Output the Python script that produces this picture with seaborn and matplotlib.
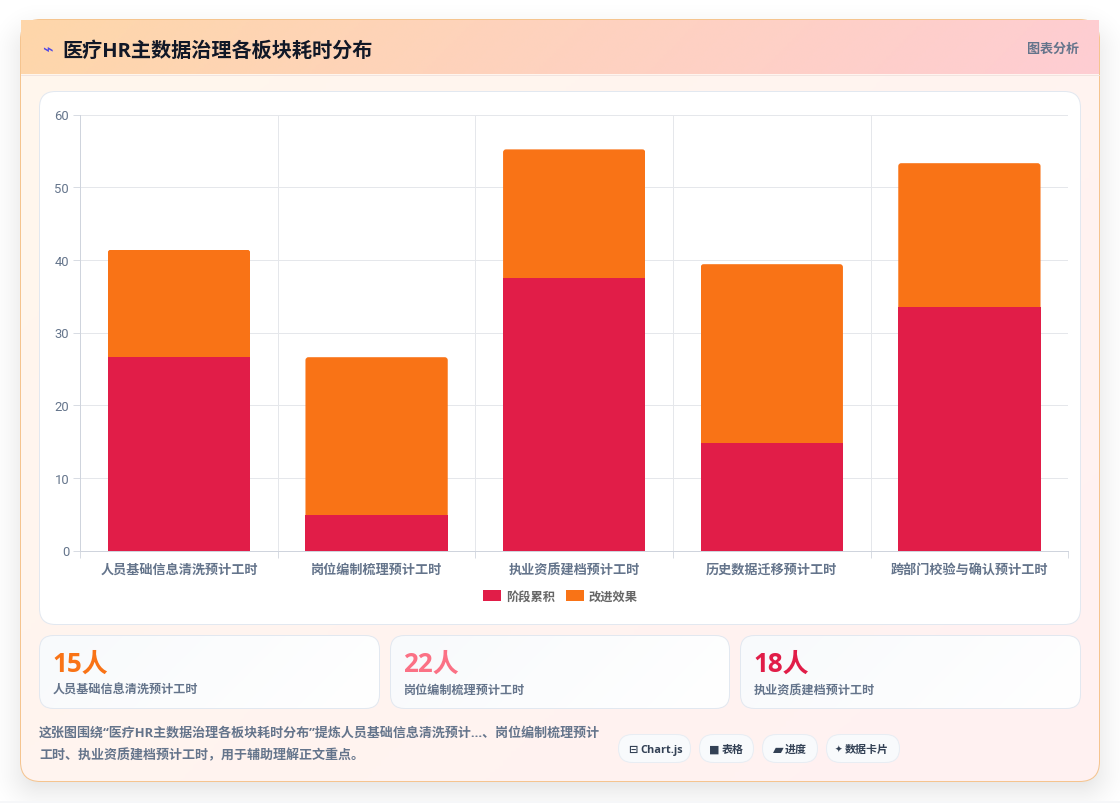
import numpy as np
import pandas as pd
import matplotlib
matplotlib.use("Agg")
import matplotlib.pyplot as plt
from matplotlib.patches import FancyBboxPatch, Rectangle
from matplotlib.transforms import IdentityTransform, ScaledTranslation
from matplotlib.colors import LinearSegmentedColormap
import seaborn as sns

# Chart data
categories = ["人员基础信息清洗预计工时", "岗位编制梳理预计工时", "执业资质建档预计工时",
              "历史数据迁移预计工时", "跨部门校验与确认预计工时"]
stage_total = [26.6, 4.9, 37.5, 14.8, 33.5]
improvement = [14.8, 21.7, 17.7, 24.6, 19.8]
series_names = ["阶段累积", "改进效果"]

kpi_values = ["15人", "22人", "18人"]
kpi_labels = ["人员基础信息清洗预计工时", "岗位编制梳理预计工时", "执业资质建档预计工时"]
kpi_colors = ["#f97316", "#fb7185", "#e11d48"]

title_text = "医疗HR主数据治理各板块耗时分布"
side_text = "图表分析"
desc_lines = ["这张图围绕“医疗HR主数据治理各板块耗时分布”提炼人员基础信息清洗预计...、岗位编制梳理预计",
              "工时、执业资质建档预计工时，用于辅助理解正文重点。"]
pill_icons = ["⊟", "■", "▰", "✦"]
pill_texts = ["Chart.js", "表格", "进度", "数据卡片"]

RED, ORANGE = "#e11d48", "#f97316"
FONTS = ["Open Sans", "Noto Sans CJK SC", "DejaVu Sans"]

sns.set_theme(style="white")
plt.rcParams["font.family"] = FONTS
plt.rcParams["axes.unicode_minus"] = False

W, H = 1120, 804
DPI = 100
fig = plt.figure(figsize=(W / DPI, H / DPI), dpi=DPI, facecolor="white")

# Page layer in pixel units, y pointing down
bg = fig.add_axes([0, 0, 1, 1], zorder=0)
bg.set_xlim(0, W)
bg.set_ylim(H, 0)
bg.axis("off")
HAIR = 0.72  # one pixel in points


def rounded(x0, y0, x1, y1, r, **kw):
    patch = FancyBboxPatch((x0 + r, y0 + r), x1 - x0 - 2 * r, y1 - y0 - 2 * r,
                           boxstyle=f"round,pad={r},rounding_size={r}", **kw)
    bg.add_patch(patch)
    return patch


def gradient(x0, y0, x1, y1, c0, c1, clip=None, zorder=1):
    cmap = LinearSegmentedColormap.from_list("g", [c0, c1])
    gx, gy = np.meshgrid(np.linspace(0, 1, 256), np.linspace(0, 1, 256))
    img = bg.imshow((gx * (x1 - x0) + gy * (y1 - y0)) / ((x1 - x0) + (y1 - y0)),
                    extent=(x0, x1, y1, y0), cmap=cmap, vmin=0, vmax=1,
                    aspect="auto", zorder=zorder, interpolation="bilinear")
    if clip is not None:
        img.set_clip_path(clip)
    return img


# Soft drop shadow under the main card
px, py = np.meshgrid(np.arange(W) + 0.5, np.arange(H) + 0.5)
sx0, sy0, sx1, sy1, sr = 20, 34, 1100, 792, 20
qx = np.abs(px - (sx0 + sx1) / 2) - ((sx1 - sx0) / 2 - sr)
qy = np.abs(py - (sy0 + sy1) / 2) - ((sy1 - sy0) / 2 - sr)
dist = np.hypot(np.maximum(qx, 0), np.maximum(qy, 0)) + np.minimum(np.maximum(qx, qy), 0) - sr
alpha = 0.13 * np.clip(1 - (dist + 18) / 56, 0, 1) ** 2
shadow = np.zeros((H, W, 4))
shadow[..., 3] = alpha
bg.imshow(shadow, extent=(0, W, H, 0), aspect="auto", zorder=0.5)
bg.set_xlim(0, W)
bg.set_ylim(H, 0)
bg.add_patch(Rectangle((0, 802), W, 2, fc="#f6f7f9", ec="none", zorder=0.6))

# Main card with its tinted gradient and thin orange outline
card_clip = rounded(20.5, 20.5, 1099.5, 782.5, 20, fc="none", ec="none", zorder=1)
gradient(20, 20, 1100, 783, "#fff7ed", "#fff1f2", clip=card_clip, zorder=1)
rounded(20.5, 20.5, 1099.5, 782.5, 20, fc="none", ec="#f5c48f", lw=HAIR, zorder=2)

# Header band
gradient(21, 21, 1099, 75, "#fed7aa", "#fecdd3", zorder=3)
bg.plot([21, 1099], [75.5, 75.5], color="#f1e4e0", lw=HAIR, zorder=3.1)
bg.text(47, 50.5, "⌁", color="#4f46e5", fontsize=13, ha="center", va="center",
        family=["DejaVu Sans"], zorder=4)
bg.text(62.5, 51.5, title_text, color="#111827", fontsize=14.5, fontweight="bold",
        ha="left", va="center", zorder=4)
bg.text(1079, 49, side_text, color="#64748b", fontsize=9.4, fontweight="bold",
        ha="right", va="center", zorder=4)

# Chart panel
rounded(39.5, 92.5, 1080.5, 625.5, 16, fc="white", ec="#e2e8f0", lw=HAIR, zorder=3)

# KPI cards
kpi_boxes = [(39.5, 379.5), (390.5, 729.5), (740.5, 1080.5)]
for (x0, x1), value, label, color in zip(kpi_boxes, kpi_values, kpi_labels, kpi_colors):
    clip = rounded(x0, 636.5, x1, 709.5, 14, fc="none", ec="none", zorder=3)
    gradient(x0, 637, x1, 709, "#f8fafc", "#ffffff", clip=clip, zorder=3)
    rounded(x0, 636.5, x1, 709.5, 14, fc="none", ec="#e2e8f0", lw=HAIR, zorder=3.1)
    bg.text(x0 + 13, 664, value, color=color, fontsize=18.7, fontweight="bold",
            ha="left", va="center", zorder=4)
    bg.text(x0 + 13.5, 690.5, label, color="#64748b", fontsize=8.7, fontweight="bold",
            ha="left", va="center", zorder=4)

# Description text
for y, line in zip((733, 755), desc_lines):
    bg.text(39, y, line, color="#64748b", fontsize=9.35, fontweight="bold",
            ha="left", va="center", zorder=4)

# Tag pills
pill_boxes = [(618.5, 690.5), (699.5, 753.5), (762.5, 817.5), (826.5, 899.5)]
icon_offsets = [14.5, 14.5, 15.5, 11.5]
text_offsets = [21.5, 22.5, 22.5, 18.5]
icon_sizes = [8, 8, 10, 6.5]
for (x0, x1), icon, text, ix, tx, isz in zip(pill_boxes, pill_icons, pill_texts,
                                             icon_offsets, text_offsets, icon_sizes):
    rounded(x0, 735.5, x1, 763.5, 14, fc="#f8fafc", ec="#e8edf3", lw=HAIR, zorder=3)
    bg.text(x0 + ix, 750, icon, color="#334155", fontsize=isz, ha="center", va="center",
            family=["DejaVu Sans"], fontweight="bold", zorder=4)
    bg.text(x0 + tx, 750.5, text, color="#334155", fontsize=7.9, fontweight="bold",
            ha="left", va="center", zorder=4)

# Stacked bar chart
AX_L, AX_R, AX_T, AX_B = 80.2, 1068.2, 115.5, 551.5
ax = fig.add_axes([AX_L / W, 1 - AX_B / H, (AX_R - AX_L) / W, (AX_B - AX_T) / H], zorder=5)
ax.patch.set_alpha(0)
df = pd.DataFrame({"category": categories, "stage": stage_total, "gain": improvement})
sns.barplot(data=df, x="category", y="stage", color=RED, width=0.72, saturation=1,
            label=series_names[0], ax=ax, zorder=3, linewidth=0, edgecolor="none")
sns.barplot(data=df, x="category", y="gain", bottom=df["stage"], color=ORANGE, width=0.72,
            saturation=1, label=series_names[1], ax=ax, zorder=3, linewidth=0, edgecolor="none")

ax.set_xlim(-0.5, 4.5)
ax.set_ylim(0, 60)
ax.set_xlabel("")
ax.set_ylabel("")
ax.set_yticks(range(0, 61, 10))
ax.set_xticks(np.arange(-0.5, 5), minor=True)
ax.grid(False)
ax.grid(True, axis="y", which="major", color="#e5e7eb", lw=HAIR, zorder=0)
ax.grid(True, axis="x", which="minor", color="#e5e7eb", lw=HAIR, zorder=0)
ax.tick_params(axis="y", which="major", left=True, length=5, width=HAIR, color="#d8dce3",
               labelsize=9.4, labelcolor="#64748b", pad=3)
ax.tick_params(axis="x", which="major", bottom=False, labelsize=9.45, labelcolor="#64748b", pad=10.1)
ax.tick_params(axis="x", which="minor", bottom=True, length=5, width=HAIR, color="#d8dce3")
for lab in ax.get_yticklabels():
    lab.set_family(["Roboto", "DejaVu Sans"])
# Even out the baseline of the category labels, whose ink heights differ
label_nudges = [0, 0, 1, 0, 1]
for lab, nudge in zip(ax.get_xticklabels(), label_nudges):
    lab.set_fontweight("bold")
    lab.set_verticalalignment("baseline")
    lab.set_transform(lab.get_transform() + ScaledTranslation(0, -nudge / DPI, fig.dpi_scale_trans))
for side in ("top", "right"):
    ax.spines[side].set_visible(False)
for side in ("left", "bottom"):
    ax.spines[side].set_color("#cfd4dd")
    ax.spines[side].set_linewidth(HAIR)

# Round the top corners of the upper segments by about three pixels
fig.canvas.draw()
for bar in ax.containers[1]:
    (x0, y0), (x1, y1) = ax.transData.transform(
        [(bar.get_x(), bar.get_y()), (bar.get_x() + bar.get_width(), bar.get_y() + bar.get_height())])
    r = 3
    bar.set_clip_path(FancyBboxPatch((x0 + r, y0 - 10), x1 - x0 - 2 * r, y1 - y0 + 10 - r,
                                     boxstyle=f"round,pad={r},rounding_size={r}",
                                     transform=IdentityTransform()))

legend = ax.legend(loc="upper center", bbox_to_anchor=(0.4862, -0.0765), ncol=2, frameon=False,
                   fontsize=8.8, handlelength=1.47, handleheight=1.0, handletextpad=0.42,
                   columnspacing=0.82, labelcolor="#666666", borderpad=0)
for t in legend.get_texts():
    t.set_fontweight("bold")

fig.savefig("out.png", dpi=DPI, facecolor=fig.get_facecolor())
